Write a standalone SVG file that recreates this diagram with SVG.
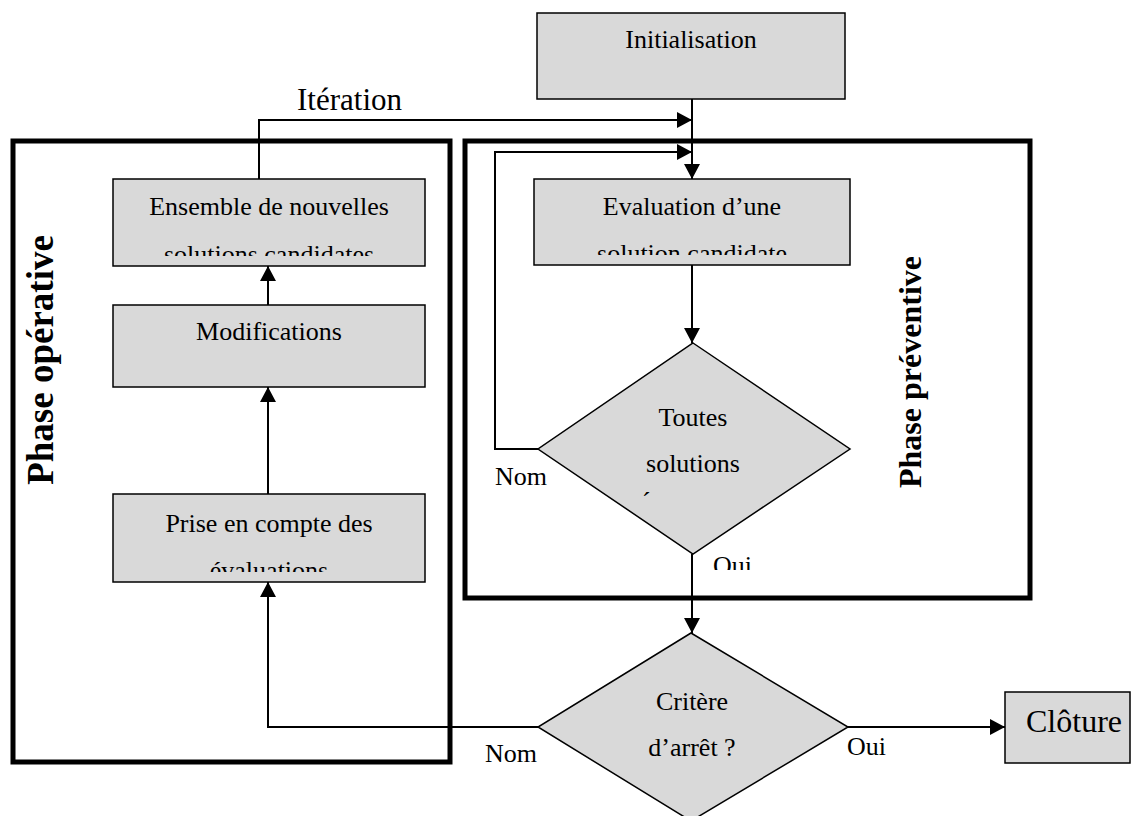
<svg xmlns="http://www.w3.org/2000/svg" width="1138" height="816" viewBox="0 0 1138 816">
  <style>
    .box { fill: #d9d9d9; stroke: #000; stroke-width: 1.5; }
    .phase { fill: none; stroke: #000; stroke-width: 5; }
    .txt { font-family: "Liberation Serif", "Times New Roman", serif; font-size: 26px; fill: #000; }
    .mid { text-anchor: middle; }
    .big { font-size: 31px; }
    .large { font-size: 32px; }
    .label { font-family: "Liberation Serif", "Times New Roman", serif; font-weight: bold; fill: #000; text-anchor: middle; }
    .conn { fill: none; stroke: #000; stroke-width: 2; }
  </style>
  <defs>
    <marker id="arrow" markerWidth="16" markerHeight="16" viewBox="0 0 16 16" refX="15" refY="8" orient="auto" markerUnits="userSpaceOnUse">
      <path d="M0,0 L15,8 L0,16 Z" fill="#000"/>
    </marker>
    <clipPath id="clipEnsemble" clipPathUnits="userSpaceOnUse"><rect x="113" y="179" width="312" height="77"/></clipPath>
    <clipPath id="clipEval" clipPathUnits="userSpaceOnUse"><rect x="534" y="179" width="316" height="76"/></clipPath>
    <clipPath id="clipPrise" clipPathUnits="userSpaceOnUse"><rect x="113" y="494" width="312" height="78"/></clipPath>
    <clipPath id="clipOui" clipPathUnits="userSpaceOnUse"><rect x="700" y="540" width="60" height="30"/></clipPath>
  </defs>

  <!-- phase frames -->
  <rect id="phase-operative" class="phase" x="13" y="141" width="437" height="621"/>
  <rect id="phase-preventive" class="phase" x="465" y="141" width="565" height="457"/>
  <text class="label" font-size="37" transform="translate(53,360) rotate(-90)">Phase opérative</text>
  <text class="label" font-size="32" transform="translate(921,372) rotate(-90)">Phase préventive</text>

  <!-- connectors -->
  <g id="connectors">
    <path class="conn" d="M259,179 V120 H692" marker-end="url(#arrow)"/>
    <path class="conn" d="M692,99 V179" marker-end="url(#arrow)"/>
    <path class="conn" d="M538,449 H495 V152 H692" marker-end="url(#arrow)"/>
    <path class="conn" d="M692,265 V343" marker-end="url(#arrow)"/>
    <path class="conn" d="M692,554 V633" marker-end="url(#arrow)"/>
    <path class="conn" d="M268,305 V266" marker-end="url(#arrow)"/>
    <path class="conn" d="M268,494 V387" marker-end="url(#arrow)"/>
    <path class="conn" d="M538,727 H268 V582" marker-end="url(#arrow)"/>
    <path class="conn" d="M848,727 H1005" marker-end="url(#arrow)"/>
    <text class="txt big" x="297" y="110">Itération</text>
    <text class="txt" x="495" y="485">Nom</text>
    <text class="txt" x="713" y="574" clip-path="url(#clipOui)">Oui</text>
    <text class="txt" x="485" y="762">Nom</text>
    <text class="txt" x="847" y="755">Oui</text>
  </g>

  <g id="initialisation">
    <rect class="box" x="537" y="13" width="308" height="86"/>
    <text class="txt mid" x="691" y="48">Initialisation</text>
  </g>

  <g id="evaluation">
    <rect class="box" x="534" y="179" width="316" height="86"/>
    <g clip-path="url(#clipEval)">
      <text class="txt mid" x="692" y="215">Evaluation d’une</text>
      <text class="txt mid" x="692" y="262">solution candidate</text>
    </g>
  </g>

  <g id="toutes-solutions">
    <polygon class="box" points="693,343 850,449 693,554 538,449"/>
    <text class="txt mid" x="693" y="426">Toutes</text>
    <text class="txt mid" x="693" y="472">solutions</text>
    <text class="txt" x="642" y="510">´</text>
  </g>

  <g id="ensemble">
    <rect class="box" x="113" y="179" width="312" height="87"/>
    <g clip-path="url(#clipEnsemble)">
      <text class="txt mid" x="269" y="215">Ensemble de nouvelles</text>
      <text class="txt mid" x="269" y="263">solutions candidates</text>
    </g>
  </g>

  <g id="modifications">
    <rect class="box" x="113" y="305" width="312" height="82"/>
    <text class="txt mid" x="269" y="340">Modifications</text>
  </g>

  <g id="prise-en-compte">
    <rect class="box" x="113" y="494" width="312" height="88"/>
    <g clip-path="url(#clipPrise)">
      <text class="txt mid" x="269" y="532">Prise en compte des</text>
      <text class="txt mid" x="269" y="579">évaluations</text>
    </g>
  </g>

  <g id="critere">
    <polygon class="box" points="691,633 848,727 691,821 538,727"/>
    <text class="txt mid" x="692" y="710">Critère</text>
    <text class="txt mid" x="692" y="756">d’arrêt ?</text>
  </g>

  <g id="cloture">
    <rect class="box" x="1005" y="692" width="125" height="71"/>
    <text class="txt mid large" x="1074" y="732">Clôture</text>
  </g>
</svg>
